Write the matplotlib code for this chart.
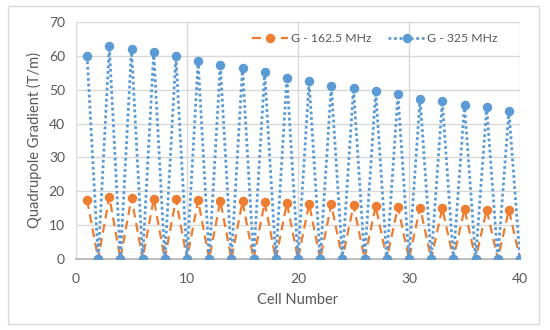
import numpy as np
import matplotlib
matplotlib.use("Agg")
import matplotlib.pyplot as plt
from matplotlib.patches import Rectangle

plt.rcParams['font.family'] = ['Lato', 'DejaVu Sans']

cells = list(range(1, 41))
# peaks at odd cells, zero at even cells
g162_peaks = [17.4, 18.4, 18.1, 17.8, 17.6, 17.3, 17.2, 17.0, 16.7, 16.5,
              16.3, 16.1, 15.9, 15.6, 15.4, 15.2, 15.0, 14.8, 14.6, 14.5]
g325_peaks = [60.0, 62.8, 62.0, 61.0, 59.9, 58.4, 57.4, 56.4, 55.1, 53.6,
              52.5, 51.2, 50.4, 49.5, 48.6, 47.4, 46.6, 45.5, 44.8, 43.7]

g162 = []
g325 = []
for a, b in zip(g162_peaks, g325_peaks):
    g162 += [a, 0.0]
    g325 += [b, 0.0]

orange = '#ED7D31'
blue = '#5B9BD5'
grey_txt = '#595959'

fig = plt.figure(figsize=(5.5, 3.3), dpi=100)
ax = fig.add_axes([76/550, 1 - 259/330, 444/550, 237/330])

# outer chart border
fig.patches.append(Rectangle((8/550, 6/330), 531/550, 318/330, transform=fig.transFigure,
                             fill=False, edgecolor='#d9d9d9', linewidth=1.0))

ax.plot(cells, g162, linestyle=(0, (4, 2.5)), color=orange, linewidth=1.6,
        marker='o', markersize=5.8, markerfacecolor=orange, markeredgecolor=orange,
        label='G - 162.5 MHz', zorder=3)
ax.plot(cells, g325, linestyle=(0, (1, 1)), color=blue, linewidth=2.0,
        marker='o', markersize=5.8, markerfacecolor=blue, markeredgecolor=blue,
        label='G - 325 MHz', zorder=4)

ax.set_xlim(0, 40)
ax.set_ylim(0, 70)
ax.set_xticks([0, 10, 20, 30, 40])
ax.set_yticks(range(0, 71, 10))
ax.grid(True, color='#d9d9d9', linewidth=1.0)
ax.set_axisbelow(True)
for s in ['top', 'right', 'left']:
    ax.spines[s].set_visible(False)
ax.spines['bottom'].set_color('#bfbfbf')
ax.spines['bottom'].set_linewidth(1.5)
ax.tick_params(axis='y', length=0, labelsize=10, colors=grey_txt, pad=8)
ax.tick_params(axis='x', length=0, labelsize=10, colors=grey_txt, pad=10)

ax.set_xlabel('Cell Number', fontsize=10.5, color=grey_txt, labelpad=6)
ax.set_ylabel('Quadrupole Gradient (T/m)', fontsize=10.5, color=grey_txt, labelpad=5)

leg = ax.legend(loc='upper right', ncol=2, frameon=False, fontsize=8.8,
                bbox_to_anchor=(0.975, 1.0), handlelength=3.0, columnspacing=1.4,
                handletextpad=0.2)
for t in leg.get_texts():
    t.set_color(grey_txt)

fig.savefig('out.png', dpi=100)
